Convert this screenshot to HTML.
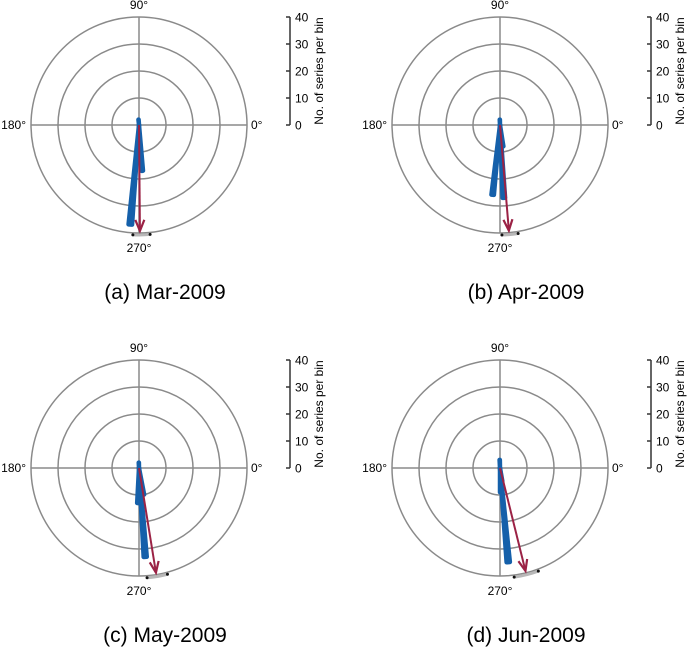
<!DOCTYPE html>
<html><head><meta charset="utf-8">
<style>
html,body{margin:0;padding:0;background:#fff;}
svg{display:block;font-family:"Liberation Sans",sans-serif;}
</style></head>
<body>
<svg id="fig" width="690" height="647" viewBox="0 0 690 647"></svg>
<script>
// ---- data ----
const panelTitles = ["(a) Mar-2009","(b) Apr-2009","(c) May-2009","(d) Jun-2009"];
const binAnglesA = [265, 274, 95];
const binCountsA = [37, 17, 2];
const binAnglesB = [264, 273, 278, 92];
const binCountsB = [26, 27, 8, 2];
const binAnglesC = [274, 268, 280, 92];
const binCountsC = [33, 13, 10, 2];
const binAnglesD = [275, 271, 279, 92];
const binCountsD = [35, 9, 5, 3];
const meanAngles = [270.5, 274.8, 279.2, 283.9];
const meanLengths = [1.0, 1.0, 1.0, 1.0];
const ciLow = [266.8, 271, 274.2, 277.4];
const ciHigh = [275.8, 279.5, 285, 290.4];
const rTicks = [0, 10, 20, 30, 40];
const angleLabels = ["0°","90°","180°","270°"];

const binAngles = [binAnglesA, binAnglesB, binAnglesC, binAnglesD];
const binCounts = [binCountsA, binCountsB, binCountsC, binCountsD];

const NS = "http://www.w3.org/2000/svg";
const svg = document.getElementById("fig");
const centers = [[139,125],[500,125],[139,468],[500,468]];
const R = 108, RMAX = 40, BINW = 2;
function mk(tag, attrs, parent){ const e=document.createElementNS(NS,tag); for(const k in attrs) e.setAttribute(k,attrs[k]); (parent||svg).appendChild(e); return e; }
function rScale(v){ return v / RMAX * R; }
function pt(cx,cy,deg,r){ const a=deg*Math.PI/180; return [cx + r*Math.cos(a), cy - r*Math.sin(a)]; }

for (let p=0; p<4; p++){
  const [cx,cy] = centers[p];
  const g = mk("g",{});
  
  
  for (let i=1;i<rTicks.length;i++){
    const c = mk("circle",{cx:cx,cy:cy,r:rScale(rTicks[i]),fill:"none",stroke:"#8a8a8a","stroke-width":1.5},g);
    
    
  }
  const h = mk("line",{x1:cx-R,y1:cy,x2:cx+R,y2:cy,stroke:"#8a8a8a","stroke-width":1.5},g);
  
  
  const v = mk("line",{x1:cx,y1:cy-R,x2:cx,y2:cy+R,stroke:"#8a8a8a","stroke-width":1.5},g);
  
  
  const l0 = mk("text",{x:cx+112,y:cy+4,"font-size":12,fill:"#000"},g); l0.textContent=angleLabels[0];
  
  
  const l90 = mk("text",{x:cx,y:cy-116,"font-size":12,"text-anchor":"middle",fill:"#000"},g); l90.textContent=angleLabels[1];
  
  
  const l180 = mk("text",{x:cx-113,y:cy+4,"font-size":12,"text-anchor":"end",fill:"#000"},g); l180.textContent=angleLabels[2];
  
  
  const l270 = mk("text",{x:cx,y:cy+127,"font-size":12,"text-anchor":"middle",fill:"#000"},g); l270.textContent=angleLabels[3];
  
  
  const rc = R+2;
  const [ax1,ay1] = pt(cx,cy,ciLow[p],rc), [ax2,ay2] = pt(cx,cy,ciHigh[p],rc);
  const arc = mk("path",{d:`M${ax1},${ay1} A${rc},${rc} 0 0 0 ${ax2},${ay2}`,fill:"none",stroke:"#b8b8b8","stroke-width":3},g);
  
  
  for (const [x,y] of [[ax1,ay1],[ax2,ay2]]){
    const d = mk("circle",{cx:x,cy:y,r:1.5,fill:"#111"},g);
    
    
  }
  for (let i=0;i<binAngles[p].length;i++){
    const r = rScale(binCounts[p][i]);
    const [x1,y1] = pt(cx,cy,binAngles[p][i]-BINW/2,r), [x2,y2] = pt(cx,cy,binAngles[p][i]+BINW/2,r);
    const w = mk("path",{d:`M${cx},${cy} L${x1},${y1} A${r},${r} 0 0 0 ${x2},${y2} Z`,fill:"#1560aa",stroke:"#1560aa","stroke-width":4.5,"stroke-linejoin":"round","stroke-linecap":"round"},g);
    
    
  }
  const L = meanLengths[p]*R - 2;
  const [tx,ty] = pt(cx,cy,meanAngles[p],L);
  const ar = mk("line",{x1:cx,y1:cy,x2:tx,y2:ty,stroke:"#9b2245","stroke-width":2},g);
  
  
  const [hx1,hy1] = pt(tx,ty,meanAngles[p]+180-22,12), [hx2,hy2] = pt(tx,ty,meanAngles[p]+180+22,12);
  const hd = mk("polyline",{points:`${hx1},${hy1} ${tx},${ty} ${hx2},${hy2}`,fill:"none",stroke:"#9b2245","stroke-width":2.2},g);
  
  
  const axX = cx+151;
  const ax = mk("line",{x1:axX,y1:cy,x2:axX,y2:cy-R,stroke:"#333","stroke-width":1.5},g);
  
  
  for (const t of rTicks){
    const y = cy - rScale(t);
    const tk = mk("line",{x1:axX-4,y1:y,x2:axX,y2:y,stroke:"#333","stroke-width":1.5},g);
    
    
    const tl = mk("text",{x:axX+5,y:y+4.5,"font-size":12,fill:"#000"},g); tl.textContent=t;
    
    
  }
  const at = mk("text",{x:0,y:0,"font-size":12,"text-anchor":"middle",fill:"#000",transform:`translate(${axX+33},${cy-R/2}) rotate(-90)`},g);
  at.textContent = "No. of series per bin";
  
  
  const cap = mk("text",{x:cx+26,y:cy+174,"font-size":21,"text-anchor":"middle",fill:"#000"},g);
  cap.textContent = panelTitles[p];
  
  
}
</script>
</body></html>
